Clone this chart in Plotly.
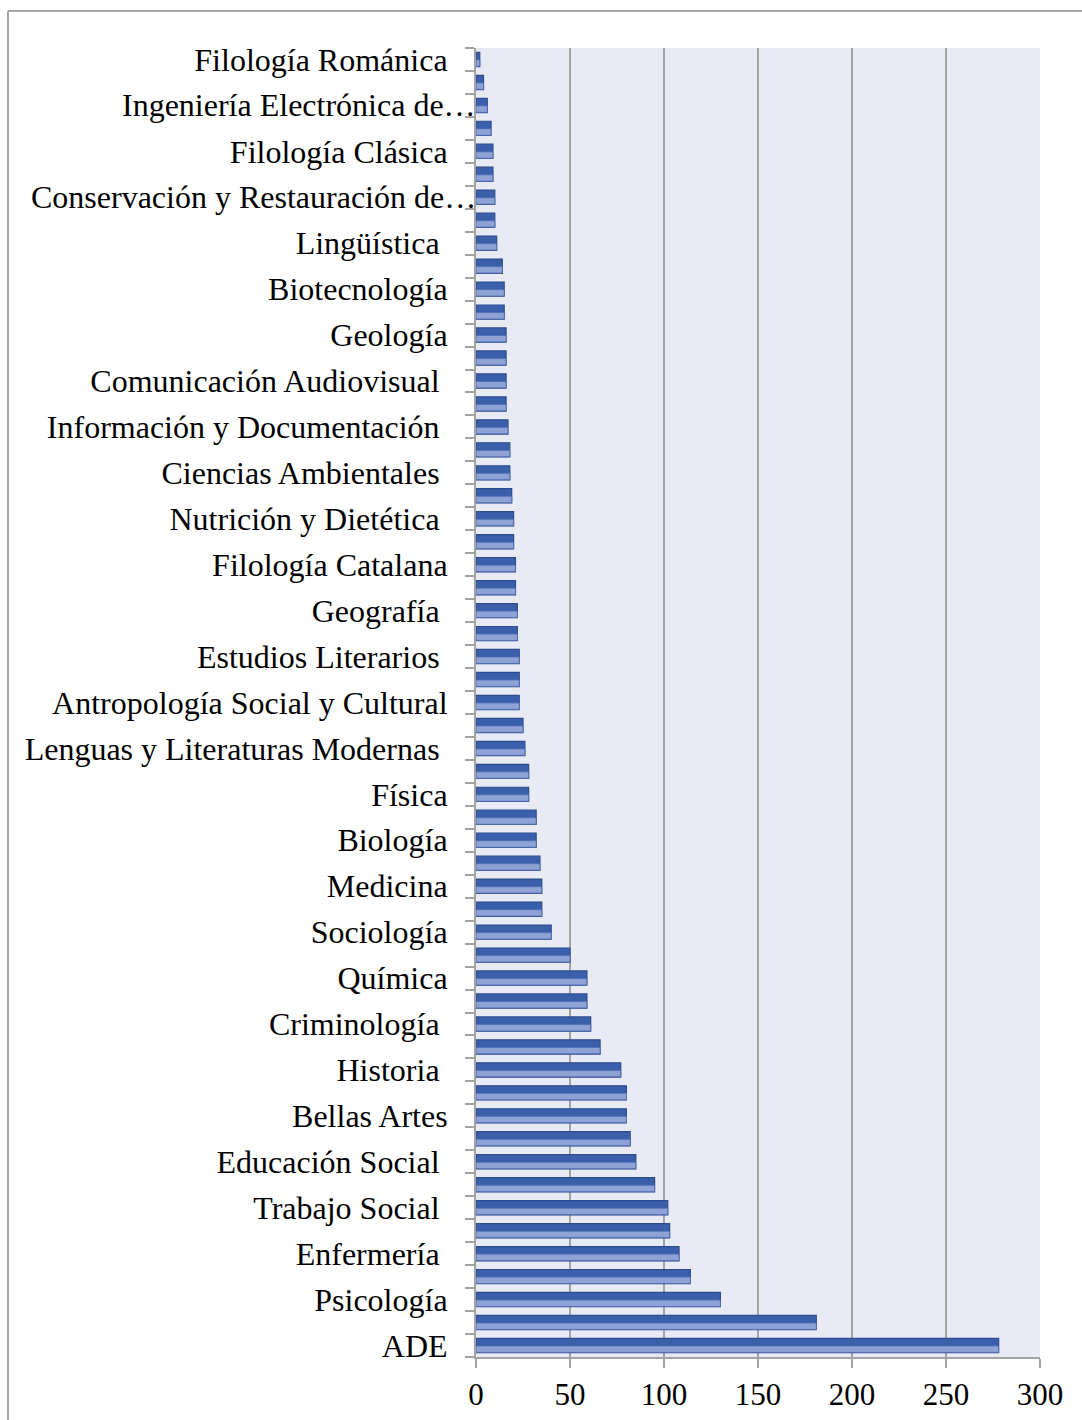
import plotly.graph_objects as go

# Degree programmes, listed top to bottom; the axis only names every second bar
labels = [
    "Filología Románica", "Ingeniería Electrónica de…", "Filología Clásica",
    "Conservación y Restauración de…", "Lingüística ", "Biotecnología", "Geología",
    "Comunicación Audiovisual ", "Información y Documentación ", "Ciencias Ambientales ",
    "Nutrición y Dietética ", "Filología Catalana", "Geografía ", "Estudios Literarios ",
    "Antropología Social y Cultural", "Lenguas y Literaturas Modernas ", "Física",
    "Biología", "Medicina", "Sociología", "Química", "Criminología ", "Historia ",
    "Bellas Artes", "Educación Social ", "Trabajo Social ", "Enfermería ",
    "Psicología", "ADE",
]

# One value per bar, top to bottom
values = [
    2, 4, 6, 8, 9, 9, 10, 10, 11, 14, 15, 15, 16, 16, 16, 16, 17, 18, 18, 19,
    20, 20, 21, 21, 22, 22, 23, 23, 23, 25, 26, 28, 28, 32, 32, 34, 35, 35, 40, 50,
    59, 59, 61, 66, 77, 80, 80, 82, 85, 95, 102, 103, 108, 114, 130, 181, 278,
]

x_ticks = [0, 50, 100, 150, 200, 250, 300]

positions = list(range(len(values)))
label_positions = positions[::2]

W, H = 1082, 1420
ML, MR, MT, MB = 476, 42, 48, 63
FONT = "Liberation Serif, Times New Roman, serif"
GRID = "#A3A3A3"
LABEL_SIZE = 32

# Truncated names (ending in an ellipsis) overflow up to the axis line;
# the rest sit in the normal tick-label slot.
def clean(t):
    return t.rstrip() + ("\u00a0" if t.endswith(" ") else "")

truncated = [t.endswith("…") for t in labels]
tick_text = ["" if tr else clean(t) for t, tr in zip(labels, truncated)]

fig = go.Figure()

# Full bar: dark upper shade with outline
fig.add_trace(go.Bar(
    x=values, y=positions, orientation="h",
    width=0.62, offset=-0.31,
    marker=dict(color="#3A60AC", line=dict(color="#2D4C8F", width=1.2)),
    hoverinfo="x",
))
# Lighter lower shade inside each bar
fig.add_trace(go.Bar(
    x=values, y=positions, orientation="h",
    width=0.28, offset=0.02,
    marker=dict(color="#8FA2D6", line=dict(color="#4E6DB3", width=0.8)),
    hoverinfo="skip",
))

for pos, text, tr in zip(label_positions, labels, truncated):
    if tr:
        fig.add_annotation(
            x=0, xref="paper", y=pos, yref="y",
            text=text, showarrow=False, xanchor="right", yanchor="middle",
            borderpad=0, xshift=1,
            font=dict(family=FONT, size=LABEL_SIZE, color="black"),
        )

# Outer chart frame (left and top edges)
px_to_x = lambda px: (px - ML) / (W - ML - MR)
px_to_y = lambda py: 1 - (py - MT) / (H - MT - MB)
fig.add_shape(type="line", xref="paper", yref="paper",
              x0=px_to_x(8), x1=px_to_x(8), y0=px_to_y(11), y1=px_to_y(H + 5),
              line=dict(color="#A6A6A6", width=2), layer="above")
fig.add_shape(type="line", xref="paper", yref="paper",
              x0=px_to_x(8), x1=px_to_x(W + 5), y0=px_to_y(11), y1=px_to_y(11),
              line=dict(color="#A6A6A6", width=2), layer="above")

fig.update_layout(
    width=W, height=H,
    margin=dict(l=ML, r=MR, t=MT, b=MB, autoexpand=False),
    paper_bgcolor="white",
    plot_bgcolor="#E8EAF4",
    barmode="overlay",
    showlegend=False,
    font=dict(family=FONT, color="black"),
)

fig.update_xaxes(
    range=[0, 300],
    tickvals=x_ticks,
    ticktext=[str(v) for v in x_ticks],
    showgrid=True, gridcolor=GRID, gridwidth=1.5,
    zeroline=False,
    showline=True, linecolor=GRID, linewidth=2,
    ticks="outside", ticklen=9, tickcolor=GRID, tickwidth=1.5,
    ticklabelstandoff=0,
    tickfont=dict(family=FONT, size=31, color="black"),
    automargin=False,
    fixedrange=True,
)

fig.update_yaxes(
    range=[len(values) - 0.5, -0.5],
    tickmode="array",
    tickvals=label_positions,
    ticktext=tick_text,
    ticks="",
    ticklabelstandoff=20,
    tickfont=dict(family=FONT, size=LABEL_SIZE, color="black"),
    showgrid=False, zeroline=False,
    showline=True, linecolor=GRID, linewidth=2,
    minor=dict(
        tickmode="array",
        tickvals=[p - 0.5 for p in positions] + [len(values) - 0.5],
        ticks="outside", ticklen=9, tickcolor=GRID, tickwidth=1.5,
        showgrid=False,
    ),
    automargin=False,
    fixedrange=True,
)

fig.write_html("out.html")
